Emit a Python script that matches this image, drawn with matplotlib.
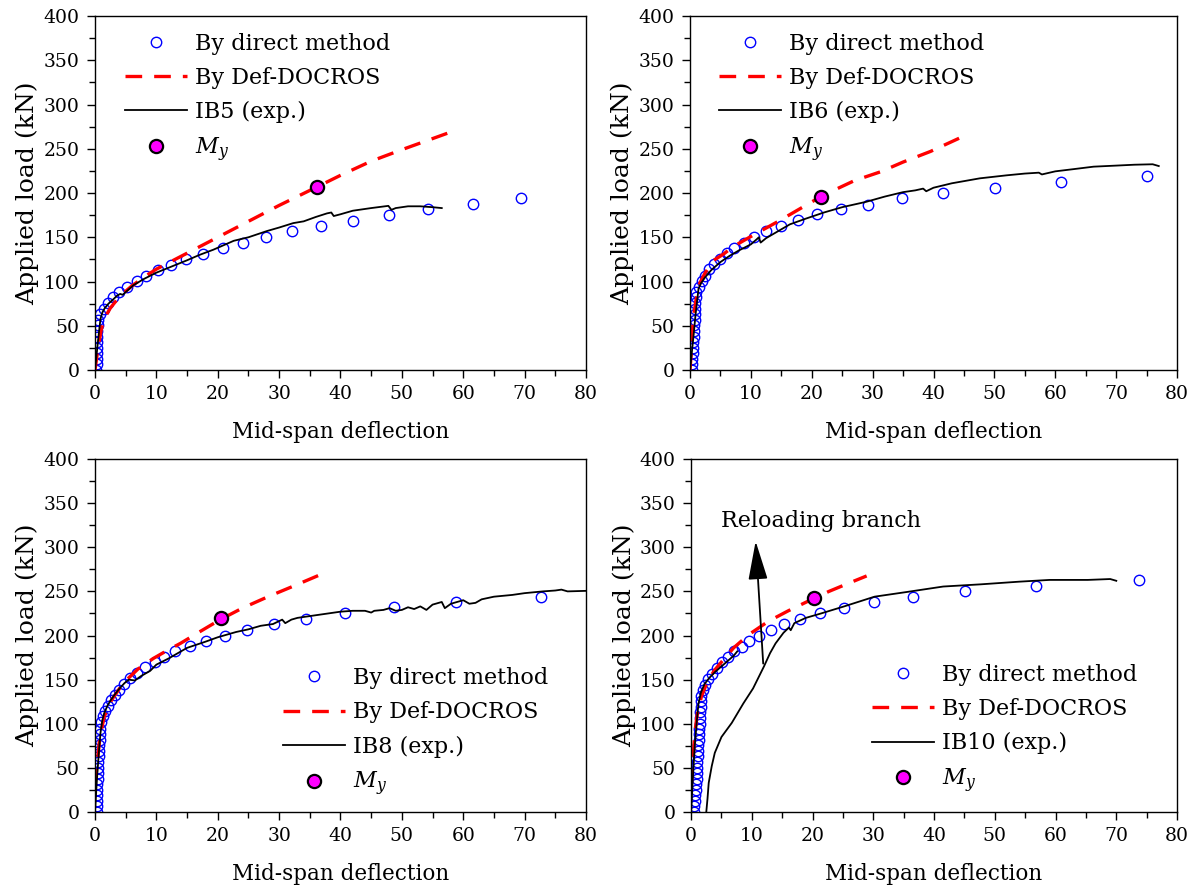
import numpy as np
import matplotlib
matplotlib.use('Agg')
import matplotlib.pyplot as plt

plt.rcParams['font.family'] = ['DejaVu Serif']
plt.rcParams['mathtext.fontset'] = 'dejavuserif'

# ---------------- IB5 ----------------
ib5_direct_x = [0.2, 0.25, 0.3, 0.3, 0.32, 0.35, 0.38, 0.4, 0.45, 0.5, 0.8, 1.4, 2.2, 3.0, 3.9, 5.2,
                6.8, 8.3, 10.3, 12.4, 14.9, 17.6, 20.8, 24.1, 27.9, 32.1, 36.8, 42.0, 47.9, 54.3, 61.6, 69.4]
ib5_direct_y = [0, 6.3, 12.6, 18.9, 25.2, 31.5, 37.8, 44.1, 50.4, 56.7, 63, 69.5, 76, 82, 88, 94,
                100.5, 106.6, 113, 118.6, 125, 131, 137.5, 144, 150, 156.7, 162.7, 168.7, 175, 181.5, 187.6, 194]
ib5_docros_x = [0, 0.5, 1.0, 1.5, 2.5, 4, 6, 8, 10, 15, 20, 25, 30, 36.2, 40, 45, 50, 57.6]
ib5_docros_y = [0, 25, 45, 58, 70, 83, 95, 105, 114, 132, 150, 168, 186, 207, 220, 236, 249, 268]
ib5_exp_x = [0, 0.3, 0.6, 0.9, 1.2, 1.6, 2.2, 3.0, 3.6, 4.1, 4.5, 5.0, 6.3, 8, 10, 12.5, 15, 17, 19.3,
             22.6, 25, 28, 30, 32.3, 34, 36, 37.8, 38.5, 38.9, 40, 42, 45, 47.8, 48.3, 49, 51, 53, 55, 56.5]
ib5_exp_y = [0, 20, 40, 58, 65, 70, 75, 80, 84, 86, 85, 88, 96, 103, 110, 117, 124, 130, 136,
             146, 150, 157, 161, 166, 168, 173, 177, 178, 174, 176, 180, 183, 185.5, 181, 183, 185, 185, 184, 183]
ib5_my = (36.2, 207)

# ---------------- IB6 ----------------
ib6_direct_x = [0.3, 0.35, 0.4, 0.45, 0.5, 0.55, 0.6, 0.65, 0.7, 0.75, 0.8, 0.85, 0.9, 1.0, 1.06, 1.4, 1.9, 2.5,
                3.2, 3.9, 4.9, 6.0, 7.2, 8.8, 10.5, 12.5, 14.9, 17.7, 20.9, 24.8, 29.3, 34.9, 41.6, 50.1, 60.9, 75.0]
ib6_direct_y = [0, 6.3, 12.6, 18.9, 25.2, 31.5, 37.8, 44.1, 50.4, 56.7, 63, 69.3, 75.6, 82, 88, 94, 100.6, 106.6,
                113.7, 120, 126, 132, 138, 144, 150, 156.7, 163, 169, 176, 181.5, 187, 194, 199.6, 206, 212.8, 218.8]
ib6_docros_x = [0, 0.2, 0.5, 1.0, 1.6, 2.5, 3.9, 5.5, 7.0, 9, 10.8, 14.5, 18, 21.5, 23.9, 27, 31.3, 35, 39.5, 45.5]
ib6_docros_y = [0, 19, 56, 80, 98, 110, 124, 131, 139, 147, 154, 168, 182, 196, 204, 214, 224, 235, 247, 266]
ib6_exp_x = [0, 0.3, 0.6, 0.9, 1.2, 1.4, 1.8, 2.5, 3.5, 5, 6.5, 8, 10, 11.0, 11.3, 11.6, 12.5, 14, 16.4, 19,
             22, 25, 28.9, 32, 35, 37, 38.3, 38.8, 40, 43, 47.6, 52, 55, 57.3, 57.8, 60, 63, 66.3, 70, 73, 76, 77]
ib6_exp_y = [0, 20, 40, 62, 80, 92, 98, 105, 113, 122, 129, 135, 142, 148, 150, 144, 149, 155, 164.6, 171,
             178, 184, 190, 196, 201, 203, 205, 202, 206, 211, 216.6, 220, 222, 223, 221, 224.5, 227, 229.8, 231, 232, 232.5, 230.5]
ib6_my = (21.5, 196)

# ---------------- IB8 ----------------
ib8_direct_x = [0.25, 0.28, 0.3, 0.33, 0.36, 0.4, 0.43, 0.47, 0.5, 0.55, 0.6, 0.65, 0.7, 0.75, 0.8, 0.86,
                0.93, 1.25, 1.6, 2.06, 2.6, 3.2, 3.9, 4.7, 5.7, 6.9, 8.2, 9.7, 11.3, 13.1, 15.5, 18.1,
                21.2, 24.8, 29.1, 34.3, 40.7, 48.7, 58.9, 72.6]
ib8_direct_y = [0, 6.3, 12.6, 18.9, 25.2, 31.5, 37.8, 44.1, 50.4, 56.7, 63, 69.3, 75.6, 82, 88, 94,
                102, 108.3, 114, 120.4, 126.4, 132.8, 138.5, 145, 151.3, 157.7, 163.8, 169.8, 176.2, 182.3, 188.3, 194.3,
                200, 206.4, 212.8, 219, 225, 232, 237.7, 244]
ib8_docros_x = [0, 0.2, 0.5, 0.8, 1.5, 2.7, 4, 5.2, 7, 9.5, 12, 13.9, 17, 20.4, 24, 28.2, 32, 36.4]
ib8_docros_y = [30, 45, 65, 85, 108, 127, 140, 150, 162, 174, 184, 191, 204, 218, 231, 244, 255, 268]
ib8_exp_x = [0, 0.3, 0.6, 0.9, 1.2, 1.5, 2, 2.5, 3.2, 4, 4.8, 5.5, 6.5, 7.5, 9, 10, 12, 15, 18, 20,
             23, 25, 27, 29, 30.5, 31, 32, 33, 35, 38, 40, 42, 44, 45, 45.5, 47, 48, 49, 50, 51,
             52, 53, 54, 55, 56.5, 57, 58, 59, 60, 61, 62, 63, 65, 68, 70, 73, 75, 76, 77, 80]
ib8_exp_y = [0, 35, 65, 90, 104, 112, 120, 126, 133, 140, 146, 150, 149, 154, 160, 167, 174, 186, 193, 198,
             204, 207, 211, 213, 218, 214, 218, 220, 222, 225, 227, 228, 228, 226, 228, 229, 231, 228, 229, 232,
             230, 233, 229, 235, 238, 231, 236, 238, 240, 236, 237, 241, 244, 246, 248, 250, 251, 252, 250, 250.6]
ib8_my = (20.5, 220)

# ---------------- IB10 ----------------
ib10_direct_x = [0.4, 0.5, 0.6, 0.7, 0.8, 0.85, 0.9, 0.95, 1.0, 1.05, 1.1, 1.15, 1.2, 1.25, 1.3, 1.35, 1.4, 1.45, 1.5, 1.55,
                 1.6, 1.7, 1.9, 2.3, 2.8, 3.4, 4.2, 5.1, 6.1, 7.1, 8.3, 9.6, 11.2, 13.1, 15.3, 18.0,
                 21.2, 25.2, 30.1, 36.5, 45.1, 56.7, 73.8]
ib10_direct_y = [0, 6.3, 12.6, 18.9, 25.2, 31.5, 37.8, 44.1, 50.4, 56.7, 63, 69.3, 75.6, 82, 88, 94, 100, 106.5, 113, 119,
                 125.3, 131.7, 138.5, 144, 150.6, 156.6, 163, 169.8, 176.2, 181.9, 187.5, 194, 200, 206.4, 213.2, 219.2,
                 225.3, 231.7, 237.7, 244.2, 250.6, 256.6, 263]
ib10_docros_x = [0, 0.1, 0.6, 1.0, 1.7, 2.7, 3.9, 5.5, 7.0, 9.5, 12.7, 16, 20.2, 22.7, 25.5, 28.9]
ib10_docros_y = [30, 37, 89, 110, 131, 148, 161, 174, 186, 201, 216, 228, 242, 250, 258, 267.5]
ib10_exp_x = [0, 0.3, 0.6, 0.9, 1.2, 1.6, 2.2, 3, 4, 5, 6, 7, 7.6]
ib10_exp_y = [0, 40, 75, 100, 122, 135, 145, 152, 159, 165, 171, 177, 182]
ib10_reload_x = [2.5, 2.7, 2.9, 3.4, 3.9, 5, 6.7, 8.6, 10.2, 12, 13, 13.9, 15.2, 16.1, 16.4, 17, 18.9, 21.4,
                 25.2, 30.2, 35.2, 41.5, 47.7, 54, 59, 65.3, 69, 70]
ib10_reload_y = [0, 15, 33, 52, 67, 85, 101, 123, 140, 165, 180, 191, 203, 209, 206, 214, 220, 225,
                 233, 244, 249, 255.5, 258, 261, 263, 263, 264, 262]
ib10_my = (20.2, 242)

beams = ['IB5', 'IB6', 'IB8', 'IB10']
direct = [(ib5_direct_x, ib5_direct_y), (ib6_direct_x, ib6_direct_y),
          (ib8_direct_x, ib8_direct_y), (ib10_direct_x, ib10_direct_y)]
docros = [(ib5_docros_x, ib5_docros_y), (ib6_docros_x, ib6_docros_y),
          (ib8_docros_x, ib8_docros_y), (ib10_docros_x, ib10_docros_y)]
exp = [(ib5_exp_x, ib5_exp_y), (ib6_exp_x, ib6_exp_y),
       (ib8_exp_x, ib8_exp_y), (ib10_exp_x, ib10_exp_y)]
my_pts = [ib5_my, ib6_my, ib8_my, ib10_my]

# axes boxes (left, bottom, width, height) in figure fraction
boxes = [(0.0789, 0.5852, 0.4078, 0.3968),
         (0.5731, 0.5852, 0.4045, 0.3968),
         (0.0789, 0.0897, 0.4078, 0.3957),
         (0.5740, 0.0897, 0.4036, 0.3957)]
# legend anchor (upper left of first entry) in axes fraction
leg_pos = [(0.061, 0.953), (0.0595, 0.953), (0.383, 0.41), (0.372, 0.42)]

fig = plt.figure(figsize=(12.04, 8.92), dpi=100)

for i in range(4):
    ax = fig.add_axes(boxes[i])
    h1, = ax.plot(direct[i][0], direct[i][1], 'o', mfc='none', mec='#0000ff', ms=7.5, mew=1.0,
                  label='By direct method')
    h2, = ax.plot(docros[i][0], docros[i][1], color='#ff0000', lw=2.4,
                  linestyle=(0, (5.0, 3.6)), label='By Def-DOCROS')
    h3, = ax.plot(exp[i][0], exp[i][1], color='k', lw=1.3, label=beams[i] + ' (exp.)')
    if i == 3:
        # reloading branch of IB10
        ax.plot(ib10_reload_x, ib10_reload_y, color='k', lw=1.3)
        ax.annotate('', xy=(10.6, 310), xytext=(11.9, 165),
                    arrowprops=dict(arrowstyle='-|>,head_length=1.2,head_width=0.3',
                                    color='k', lw=1.3, mutation_scale=20))
        ax.text(5.0, 330, 'Reloading branch', fontsize=16, va='center', ha='left')
    h4, = ax.plot([my_pts[i][0]], [my_pts[i][1]], 'o', mfc='#ff00ff', mec='k', ms=9.5, mew=1.6,
                  label='$M_y$', zorder=5)

    ax.set_xlim(0, 80)
    ax.set_ylim(0, 400)
    ax.set_xticks(np.arange(0, 81, 10))
    ax.set_xticks(np.arange(0, 81, 5), minor=True)
    ax.set_yticks(np.arange(0, 401, 50))
    ax.set_yticks(np.arange(0, 401, 25), minor=True)
    ax.tick_params(which='major', direction='out', length=6, width=1, labelsize=13.5, pad=5)
    ax.tick_params(which='minor', direction='out', length=4, width=1)
    for s in ax.spines.values():
        s.set_linewidth(1.0)
    ax.set_xlabel('Mid-span deflection', fontsize=15.5, labelpad=13)
    ax.set_ylabel('Applied load (kN)', fontsize=18, labelpad=3)

    ax.legend(handles=[h1, h2, h3, h4], loc='upper left', bbox_to_anchor=leg_pos[i],
              frameon=False, fontsize=16, handlelength=2.8, handletextpad=0.36,
              labelspacing=0.55, borderpad=0, borderaxespad=0)

fig.savefig('out.png', dpi=100)
